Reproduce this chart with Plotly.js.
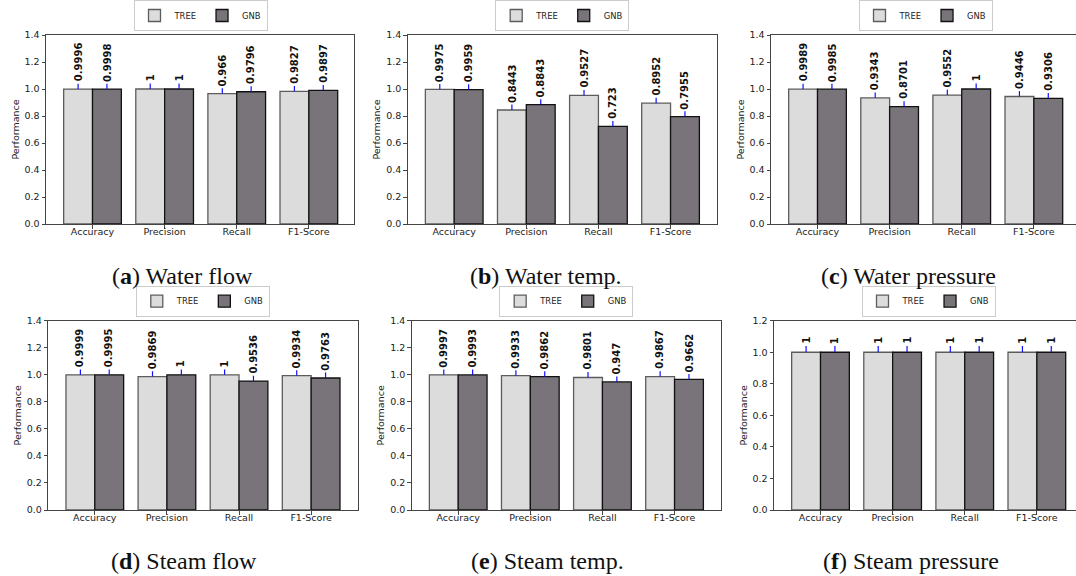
<!DOCTYPE html>
<html>
<head>
<meta charset="utf-8">
<script src="https://cdn.plot.ly/plotly-3.0.1.min.js"></script>
<style>html,body{margin:0;padding:0;background:#fff;}#chart{width:1076px;height:576px;}</style>
</head>
<body>
<div id="chart"></div>
<script>
const categories = ["Accuracy", "Precision", "Recall", "F1-Score"];
const seriesNames = ["TREE", "GNB"];

const waterFlowTree = [0.9996, 1, 0.966, 0.9827];
const waterFlowGnb = [0.9998, 1, 0.9796, 0.9897];
const waterTempTree = [0.9975, 0.8443, 0.9527, 0.8952];
const waterTempGnb = [0.9959, 0.8843, 0.723, 0.7955];
const waterPressTree = [0.9989, 0.9343, 0.9552, 0.9446];
const waterPressGnb = [0.9985, 0.8701, 1, 0.9306];
const steamFlowTree = [0.9999, 0.9869, 1, 0.9934];
const steamFlowGnb = [0.9995, 1, 0.9536, 0.9763];
const steamTempTree = [0.9997, 0.9933, 0.9801, 0.9867];
const steamTempGnb = [0.9993, 0.9862, 0.947, 0.9662];
const steamPressTree = [1, 1, 1, 1];
const steamPressGnb = [1, 1, 1, 1];

const errorUp = [0.04, 0.04, 0.04, 0.04];

const captionLetters = ["a", "b", "c", "d", "e", "f"];
const captionTexts = ["Water flow", "Water temp.", "Water pressure", "Steam flow", "Steam temp.", "Steam pressure"];
const yMax = [1.4, 1.4, 1.4, 1.4, 1.4, 1.2];

const panels = [
  [waterFlowTree, waterFlowGnb], [waterTempTree, waterTempGnb], [waterPressTree, waterPressGnb],
  [steamFlowTree, steamFlowGnb], [steamTempTree, steamTempGnb], [steamPressTree, steamPressGnb]
];

// layout geometry (pixels)
const W = 1076, H = 576;
const pxLeft = [46, 407.7, 771, 48.3, 411.7, 774];
const pxRight = [354.3, 717.3, 1076, 357.7, 721, 1076];
const fullWidth = 309; // uncropped panel width
const rowTop = [35, 35, 35, 320.7, 320.7, 320.7];
const rowBot = [224, 224, 224, 510, 510, 510];
const capX = [182, 546, 908, 184, 547.5, 911];
const capY = [276, 276, 276, 561, 561, 561];
const xStart = -0.645;
const unitPx = fullWidth / 4.285;

const fills = ["#dcdcdc", "#79737a"];
const edges = ["#5c5c5c", "#111111"];

const traces = [];
const layout = {
  width: W, height: H,
  margin: {l: 0, r: 0, t: 0, b: 0},
  paper_bgcolor: "#ffffff", plot_bgcolor: "#ffffff",
  barmode: "group", bargap: 0.2, bargroupgap: 0,
  font: {family: "DejaVu Sans", color: "#222"},
  annotations: [],
  showlegend: true
};

panels.forEach((pair, p) => {
  const n = p === 0 ? "" : String(p + 1);
  const xa = "x" + n, ya = "y" + n;
  const legendId = "legend" + n;
  pair.forEach((vals, s) => {
    traces.push({
      type: "bar", name: seriesNames[s], x: categories, y: vals,
      xaxis: xa, yaxis: ya, legend: legendId,
      marker: {color: fills[s], line: {color: edges[s], width: 1.3}},
      error_y: {type: "data", symmetric: false, array: errorUp, arrayminus: [0,0,0,0],
                color: "#1010ff", thickness: 1.2, width: 0},
      hoverinfo: "skip"
    });
    vals.forEach((v, i) => {
      layout.annotations.push({
        xref: xa, yref: ya, x: i + (s === 0 ? -0.2 : 0.2), y: v + errorUp[i],
        text: "<b>" + String(v) + "</b>", textangle: -90, showarrow: false,
        xanchor: "center", yanchor: "bottom", yshift: 1, borderpad: 0,
        font: {family: "DejaVu Sans", size: 10, color: "#111"}
      });
    });
  });
  const widthPx = pxRight[p] - pxLeft[p];
  const axKey = p === 0 ? "" : String(p + 1);
  layout["xaxis" + axKey] = {
    domain: [pxLeft[p] / W, pxRight[p] / W], anchor: ya,
    type: "category", range: [xStart, xStart + widthPx / unitPx],
    showline: true, linecolor: "#444", linewidth: 1, mirror: true,
    ticks: "outside", ticklen: 3.5, tickcolor: "#444", showgrid: false, zeroline: false,
    ticklabelstandoff: -5,
    tickfont: {size: 9.5, color: "#222"}, fixedrange: true
  };
  layout["yaxis" + axKey] = {
    domain: [1 - rowBot[p] / H, 1 - rowTop[p] / H], anchor: xa,
    range: [0, yMax[p]], dtick: 0.2, tick0: 0, tickformat: ".1f",
    showline: true, linecolor: "#444", linewidth: 1, mirror: true,
    ticks: "outside", ticklen: 3.5, tickcolor: "#444", showgrid: false, zeroline: false,
    tickfont: {size: 9.5, color: "#222"},
    title: {text: "Performance", font: {size: 9.5, color: "#222"}, standoff: 3},
    fixedrange: true
  };
  layout[legendId] = {
    orientation: "h", x: (pxLeft[p] + fullWidth / 2) / W, xanchor: "center",
    y: 1 - (rowTop[p] - 4) / H, yanchor: "bottom",
    font: {size: 8.4, color: "#222"}, bordercolor: "#cccccc", borderwidth: 1,
    bgcolor: "#ffffff", itemwidth: 30, tracegroupgap: 0
  };
  layout.annotations.push({
    xref: "paper", yref: "paper", x: capX[p] / W, y: 1 - capY[p] / H,
    xanchor: "center", yanchor: "middle", showarrow: false,
    text: "(<b>" + captionLetters[p] + "</b>) " + captionTexts[p],
    font: {family: "Liberation Serif", size: 24, color: "#111"}
  });
});

Plotly.newPlot("chart", traces, layout, {displayModeBar: false, staticPlot: true});
</script>
</body>
</html>
